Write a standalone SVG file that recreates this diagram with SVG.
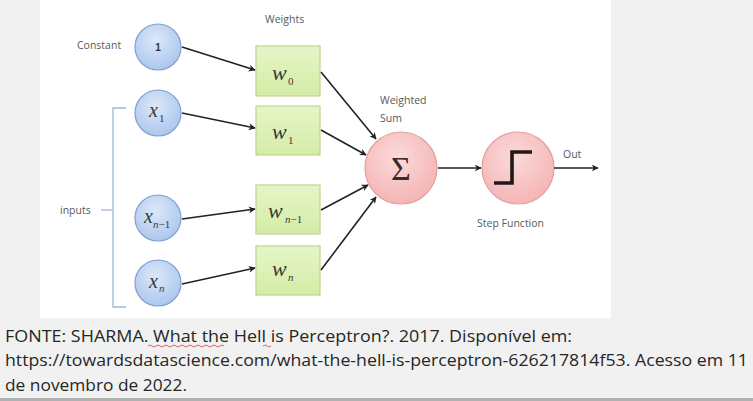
<svg xmlns="http://www.w3.org/2000/svg" width="753" height="401" viewBox="0 0 753 401">
<style>
.lbl{font-family:"Open Sans","Liberation Sans",sans-serif;font-size:10.5px;fill:#595959}
.math{font-family:"Liberation Serif","DejaVu Serif",serif;font-style:italic;fill:#3a3a3a}
.sub{font-family:"Liberation Serif","DejaVu Serif",serif;font-style:italic;fill:#3a3a3a;font-size:11px}
.dig{font-style:normal}
.inp{fill:url(#gBlue);stroke:#7f9fd3;stroke-width:1.2}
.wt{fill:url(#gGreen);stroke:#b9d88e;stroke-width:1.2}
.op{fill:url(#gPink);stroke:#e0a0a0;stroke-width:1.2}
.edge{stroke:#222;stroke-width:1.6;fill:none;marker-end:url(#arr)}
.cap{font-family:"Open Sans","Liberation Sans",sans-serif;font-size:17px;fill:#262626}
</style>
<defs>
<radialGradient id="gBlue" cx="0.45" cy="0.35" r="0.7"><stop offset="0" stop-color="#dce8f8"/><stop offset="1" stop-color="#a9c4ec"/></radialGradient>
<linearGradient id="gGreen" x1="0" y1="0" x2="0" y2="1"><stop offset="0" stop-color="#e6f5c8"/><stop offset="1" stop-color="#d4eca6"/></linearGradient>
<radialGradient id="gPink" cx="0.45" cy="0.35" r="0.7"><stop offset="0" stop-color="#fbdada"/><stop offset="1" stop-color="#f4b2b2"/></radialGradient>
<marker id="arr" viewBox="0 0 10 10" refX="9" refY="5" markerWidth="7" markerHeight="7" orient="auto" markerUnits="userSpaceOnUse"><path d="M0,0 L10,5 L0,10 L3,5 z" fill="#222"/></marker>
</defs>
<rect width="753" height="401" fill="#f1f1f1"/>
<rect x="40" y="0" width="571" height="318" fill="#ffffff"/>
<rect x="0" y="398" width="753" height="3" fill="#b0b0b0"/>

<g id="labels">
<text class="lbl" x="265" y="23">Weights</text>
<text class="lbl" x="77" y="49">Constant</text>
<text class="lbl" x="60" y="214">inputs</text>
<text class="lbl" x="380" y="104">Weighted</text>
<text class="lbl" x="380" y="122">Sum</text>
<text class="lbl" x="563" y="158">Out</text>
<text class="lbl" x="477" y="227">Step Function</text>
</g>

<g id="bracket" fill="none" stroke="#9fb6dc" stroke-width="1.3">
<path d="M126,108 H113 V307 H126"/>
<path d="M101,210 H113"/>
</g>

<g id="node-const"><circle class="inp" cx="158" cy="47" r="23"/><text x="158" y="51" text-anchor="middle" style="font-family:'Liberation Sans',sans-serif;font-size:10px;font-weight:bold;fill:#333">1</text></g>
<g id="node-x1"><circle class="inp" cx="158" cy="113" r="23"/><text class="math" x="149" y="117" font-size="20">x</text><text class="sub dig" x="159" y="122">1</text></g>
<g id="node-xn1"><circle class="inp" cx="158" cy="218" r="23"/><text class="math" x="144" y="223" font-size="20">x</text><text class="sub" x="153" y="228" font-size="10">n<tspan class="dig">−1</tspan></text></g>
<g id="node-xn"><circle class="inp" cx="158" cy="283" r="23"/><text class="math" x="149" y="288" font-size="20">x</text><text class="sub" x="159" y="292">n</text></g>

<g id="node-w0"><rect class="wt" x="256" y="46" width="64" height="50"/><text class="math" x="272" y="80" font-size="22">w</text><text class="sub dig" x="288" y="85">0</text></g>
<g id="node-w1"><rect class="wt" x="256" y="106" width="64" height="49"/><text class="math" x="272" y="139" font-size="22">w</text><text class="sub dig" x="288" y="144">1</text></g>
<g id="node-wn1"><rect class="wt" x="256" y="185" width="64" height="49"/><text class="math" x="268" y="218" font-size="22">w</text><text class="sub" x="285" y="223" font-size="10.5">n<tspan class="dig">−1</tspan></text></g>
<g id="node-wn"><rect class="wt" x="256" y="246" width="64" height="49"/><text class="math" x="272" y="276" font-size="22">w</text><text class="sub" x="288" y="281">n</text></g>

<g id="node-sum"><circle class="op" cx="401" cy="168" r="36"/><text x="401" y="180" text-anchor="middle" style="font-family:'Liberation Serif','DejaVu Serif',serif;font-size:34px;fill:#3a2a2a">Σ</text></g>
<g id="node-step"><circle class="op" cx="518" cy="168" r="36"/><path d="M494,183 H512 V152 H532" fill="none" stroke="#221818" stroke-width="3.6"/></g>

<g id="connectors">
<line class="edge" x1="182" y1="47" x2="255" y2="70"/>
<line class="edge" x1="182" y1="113" x2="255" y2="128"/>
<line class="edge" x1="182" y1="219" x2="255" y2="209"/>
<line class="edge" x1="182" y1="284" x2="255" y2="268"/>
<line class="edge" x1="321" y1="72" x2="376" y2="139"/>
<line class="edge" x1="321" y1="130" x2="366" y2="155"/>
<line class="edge" x1="321" y1="210" x2="368" y2="185"/>
<line class="edge" x1="321" y1="270" x2="376" y2="197"/>
<line class="edge" x1="438" y1="168" x2="481" y2="168"/>
<line class="edge" x1="554" y1="168" x2="598" y2="168"/>
</g>

<g id="caption">
<text class="cap" x="5" y="342" textLength="567" lengthAdjust="spacingAndGlyphs">FONTE: SHARMA. What the Hell is Perceptron?. 2017. Disponível em:</text>
<text class="cap" x="5" y="366" textLength="743" lengthAdjust="spacingAndGlyphs">https://towardsdatascience.com/what-the-hell-is-perceptron-626217814f53. Acesso em 11</text>
<text class="cap" x="5" y="391" textLength="182" lengthAdjust="spacingAndGlyphs">de novembro de 2022.</text>
<path d="M148,346 q2,-2 4,0 t4,0 t4,0 t4,0 t4,0 t4,0 t4,0 t4,0 t4,0 t4,0 t4,0 t4,0 t4,0 t4,0 t4,0 t4,0 t4,0 t4,0 t4,0" fill="none" stroke="#d04040" stroke-width="0.8"/>
<path d="M263,346 q2,-2 4,0 t4,0" fill="none" stroke="#d04040" stroke-width="0.8"/>
</g>
</svg>
